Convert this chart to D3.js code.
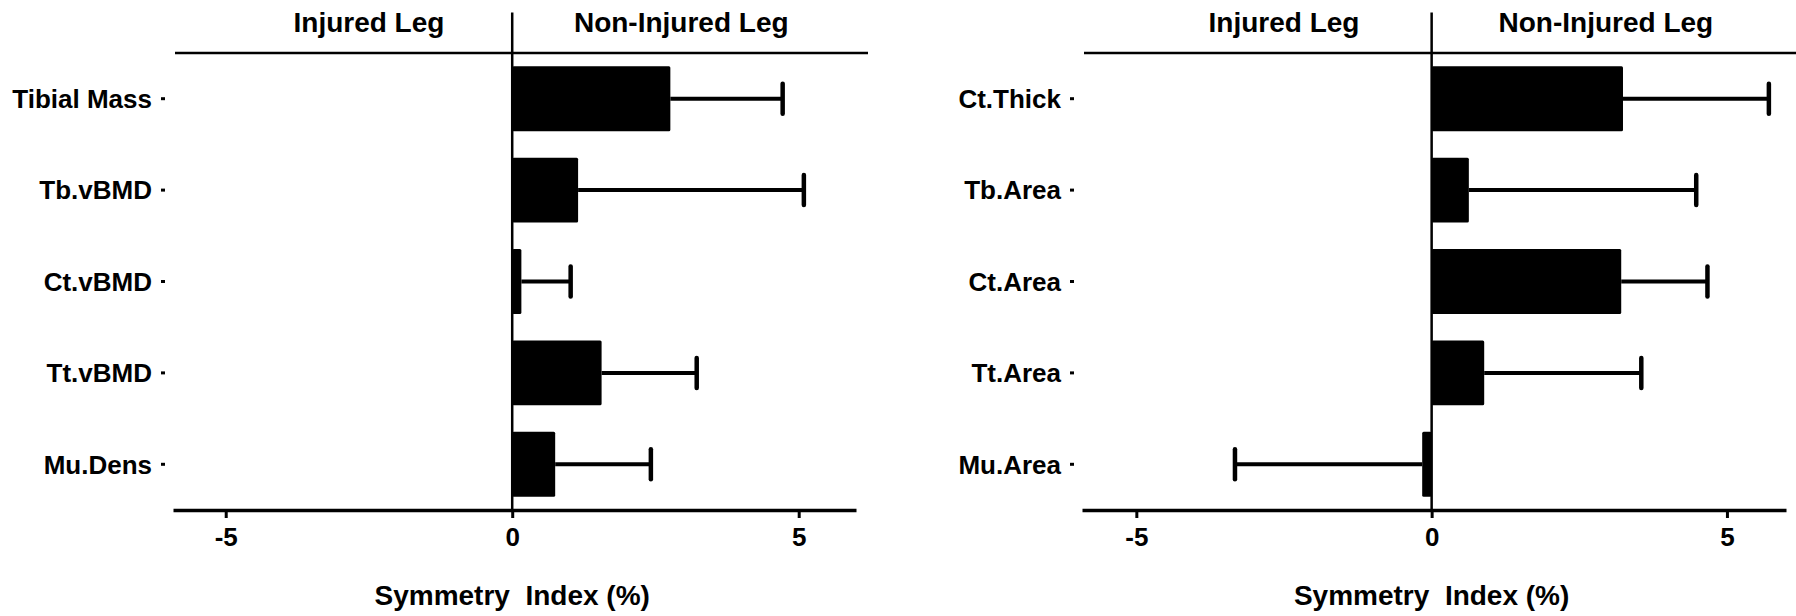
<!DOCTYPE html>
<html>
<head>
<meta charset="utf-8">
<script src="https://cdn.jsdelivr.net/npm/d3@7"></script>
<style>
	body{margin:0;background:#fff;}
	svg{display:block;font-family:"Liberation Sans",Arial,sans-serif;font-weight:bold;}
</style>
</head>
<body>
<svg id="chart" width="1796" height="616"></svg>
<script>
// bone / muscle symmetry index, mean and error (error drawn away from zero)
const leftCategories = ['Tibial Mass','Tb.vBMD','Ct.vBMD','Tt.vBMD','Mu.Dens'];
const leftMeans = [2.76, 1.15, 0.16, 1.56, 0.75];
const leftErrors = [1.96, 3.94, 0.86, 1.66, 1.67];

const rightCategories = ['Ct.Thick','Tb.Area','Ct.Area','Tt.Area','Mu.Area'];
const rightMeans = [3.24, 0.63, 3.21, 0.89, -0.16];
const rightErrors = [2.47, 3.85, 1.46, 2.66, 3.17];

const xTicks = [-5, 0, 5];
const xDomain = [-5.92, 6];
const sideLabels = [{text:'Injured Leg', at:-2.5}, {text:'Non-Injured Leg', at:2.95}];
const axisTitle = 'Symmetry  Index (%)';

const svg = d3.select('#chart');
const plotTop = 53, plotBottom = 510;

function drawPanel(categories, means, errors, x0, x1){
	const data = categories.map((c,i)=>({name:c, mean:means[i], err:errors[i]}));
	const x = d3.scaleLinear().domain(xDomain).range([x0, x1]);
	const y = d3.scaleBand().domain(categories).range([plotTop, plotBottom])
		.paddingInner(0.29).paddingOuter(0.145);

	const g = svg.append('g');

	// top rule
	g.append('line')
		.attr('x1', x0+2).attr('x2', x1+12)
		.attr('y1', plotTop).attr('y2', plotTop)
		.attr('stroke','#000').attr('stroke-width',2.5);

	// side labels
	g.selectAll('text.side')
		.data(sideLabels)
		.join('text')
			.classed('side',true)
			.attr('x', d=>x(d.at))
			.attr('y', 32)
			.attr('text-anchor','middle')
			.attr('font-size', 28)
			.text(d=>d.text);

	// bars
	g.selectAll('rect.bar')
		.data(data)
		.join('rect')
			.classed('bar',true)
			.attr('x', d=>x(Math.min(0,d.mean)))
			.attr('width', d=>Math.abs(x(d.mean)-x(0)))
			.attr('y', d=>y(d.name))
			.attr('height', y.bandwidth())
			.attr('rx', 1.5)
			.attr('fill','#000');

	// error bars
	const errEnd = d=> d.mean + (d.mean<0 ? -d.err : d.err);
	g.selectAll('line.err')
		.data(data)
		.join('line')
			.classed('err',true)
			.attr('x1', d=>x(d.mean))
			.attr('x2', d=>x(errEnd(d)))
			.attr('y1', d=>y(d.name)+y.bandwidth()/2)
			.attr('y2', d=>y(d.name)+y.bandwidth()/2)
			.attr('stroke','#000').attr('stroke-width',4);
	g.selectAll('line.cap')
		.data(data)
		.join('line')
			.classed('cap',true)
			.attr('x1', d=>x(errEnd(d)))
			.attr('x2', d=>x(errEnd(d)))
			.attr('y1', d=>y(d.name)+y.bandwidth()/2-15)
			.attr('y2', d=>y(d.name)+y.bandwidth()/2+15)
			.attr('stroke','#000').attr('stroke-width',4.5)
			.attr('stroke-linecap','round');

	// zero line
	g.append('line')
		.attr('x1', x(0)).attr('x2', x(0))
		.attr('y1', 12.5).attr('y2', plotBottom)
		.attr('stroke','#000').attr('stroke-width',2.5);

	// x axis
	const xAxis = d3.axisBottom(x).tickValues(xTicks).tickFormat(d=>String(d))
		.tickSize(8).tickSizeOuter(0).tickPadding(10);
	const ax = g.append('g')
		.attr('transform','translate(0,'+plotBottom+')')
		.call(xAxis);
	ax.select('.domain').attr('stroke-width',3.5);
	ax.selectAll('.tick line').attr('stroke-width',3);
	ax.selectAll('.tick text')
		.attr('font-size',26)
		.attr('font-family','"Liberation Sans",Arial,sans-serif')
		.attr('font-weight','bold')
		.attr('fill','#000');

	// y axis (ticks only)
	const yAxis = d3.axisLeft(y).tickSize(4).tickPadding(9);
	const ay = g.append('g')
		.attr('transform','translate('+(x0-8)+',0)')
		.call(yAxis);
	ay.select('.domain').remove();
	ay.selectAll('.tick line').attr('stroke-width',3);
	ay.selectAll('.tick text')
		.attr('font-size',26)
		.attr('font-family','"Liberation Sans",Arial,sans-serif')
		.attr('font-weight','bold')
		.attr('fill','#000')
		.attr('dy','0.36em');

	// axis title
	g.append('text')
		.attr('x', x(0))
		.attr('y', 605)
		.attr('text-anchor','middle')
		.attr('font-size',28)
		.style('white-space','pre')
		.text(axisTitle);
}

drawPanel(leftCategories, leftMeans, leftErrors, 173, 856);
drawPanel(rightCategories, rightMeans, rightErrors, 1082, 1786);
</script>
</body>
</html>
